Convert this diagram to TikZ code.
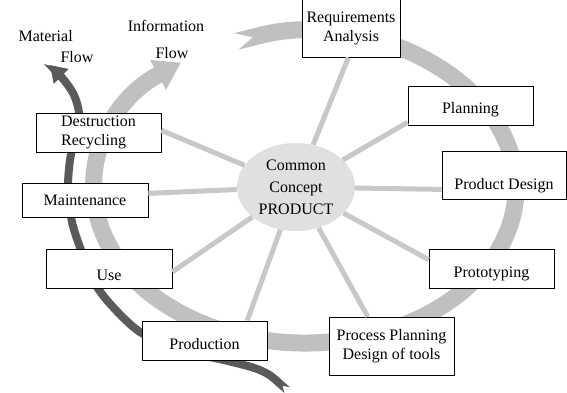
\documentclass[tikz,border=0pt]{standalone}
\usepackage{fontspec}
\setmainfont{Liberation Serif}
\usetikzlibrary{arrows.meta,shapes.geometric}
\definecolor{ringgrey}{RGB}{192,192,192}
\definecolor{spokegrey}{RGB}{200,200,200}
\definecolor{coregrey}{RGB}{224,224,224}
\definecolor{matgrey}{RGB}{90,90,90}
\tikzset{
  stage/.style={draw, line width=0.8pt, fill=white, inner sep=2pt, minimum height=39pt, minimum width=125pt, align=center},
  sink/.style={text depth=0pt, text height=#1},
  core/.style={ellipse, fill=coregrey, minimum width=118pt, minimum height=88pt, inner sep=0pt, align=center, font=\fontsize{16}{22}\selectfont},
  spoke/.style={draw=spokegrey, line width=5pt},
  infoflow/.style={draw=ringgrey, line width=17pt, {Triangle Cap[reversed,length=17pt]}-{Triangle[length=26pt,width=32pt]}},
  matflow/.style={draw=matgrey, line width=8pt, {Triangle Cap[reversed,length=6pt]}-{Triangle[length=16pt,width=20pt]}},
}
\begin{document}
\begin{tikzpicture}[x=1pt, y=-1pt, font=\fontsize{16}{19}\selectfont]
\useasboundingbox (0,0) rectangle (567,392);
% information flow ring
\coordinate (ringc) at (305,188);
\path (ringc) ++(-109:211 and 155) coordinate (infotail);
\draw[infoflow] (infotail) arc[start angle=-109, end angle=234, x radius=211, y radius=155];
% material flow
\draw[matflow] plot[smooth] coordinates {(287,390) (262,371) (228,361) (180,350) (140,332) (112,306) (94,282) (81,250) (72,222) (68,190) (70,160) (76,132) (79,113) (74,95) (64,80) (50,65)};
% centre and life cycle stages
\node[core] (core) at (296,187) {Common\\Concept\\PRODUCT};
\node[stage, minimum width=98pt, minimum height=58pt] (req) at (351,28) {Requirements\\Analysis};
\node[stage, sink=15.6pt] (plan) at (470.5,105.5) {Planning};
\node[stage, minimum width=124pt, minimum height=48pt, sink=28pt] (design) at (504,175) {Product Design};
\node[stage, sink=18.6pt] (proto) at (491.5,268.5) {Prototyping};
\node[stage, minimum height=58pt] (procplan) at (391.5,346) {Process Planning\\Design of tools};
\node[stage, sink=17.6pt] (prodn) at (204.5,340.5) {Production};
\node[stage, minimum width=126pt, sink=23.6pt] (use) at (109,268.5) {Use};
\node[stage, minimum width=126pt, minimum height=34pt] (maint) at (85,200) {Maintenance};
\node[stage, align=left] (recyc) at (98.5,132.5) {Destruction\\Recycling};
% spokes
\foreach \nd/\an in {req/265, plan/195, design/193, proto/172, procplan/129, prodn/25, use/-3, maint/6, recyc/2}
  \draw[spoke] (core) -- (\nd.\an);
% flow labels
\node[align=left, anchor=west] (matlabel) at (15,46.5) {Material\\[2pt]\hspace*{42pt}Flow};
\node[align=center] (infolabel) at (166,39.5) {Information\\[8pt]\hspace*{12pt}Flow};
\end{tikzpicture}
\end{document}
